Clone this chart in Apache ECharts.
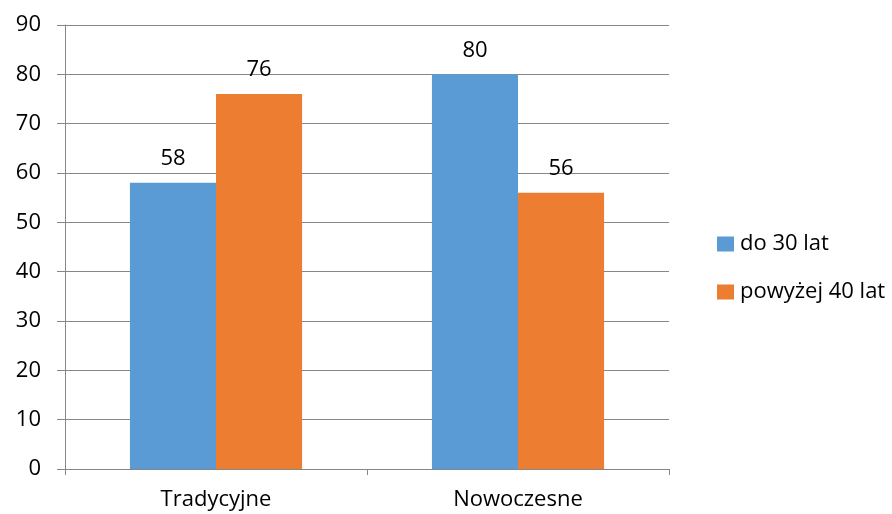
<!DOCTYPE html>
<html>
<head>
<meta charset="utf-8">
<script src="https://cdn.jsdelivr.net/npm/echarts@6/dist/echarts.min.js"></script>
<style>
  html, body { margin: 0; padding: 0; background: #fff; }
  #chart { width: 892px; height: 514px; }
</style>
</head>
<body>
<div id="chart"></div>
<script>
// Survey results by age group
const categories = ['Tradycyjne', 'Nowoczesne'];
const seriesNames = ['do 30 lat', 'powyżej 40 lat'];
const young = [58, 80];
const older = [76, 56];

const FONT = '"Open Sans", "Noto Sans", sans-serif';
const FONT_SIZE = 22;
const AXIS_GREY = '#868686';

const chart = echarts.init(document.getElementById('chart'), null, { renderer: 'canvas' });

const barLabel = {
  show: true,
  position: 'top',
  distance: 13,
  fontFamily: FONT,
  fontSize: FONT_SIZE,
  color: '#000'
};

chart.setOption({
  animation: false,
  textStyle: { fontFamily: FONT },
  grid: { left: 65, right: 223, top: 25, bottom: 45, containLabel: false },
  legend: {
    orient: 'vertical',
    left: 712,
    top: 228,
    itemWidth: 17,
    itemHeight: 15,
    itemGap: 26,
    icon: 'rect',
    textStyle: { fontFamily: FONT, fontSize: FONT_SIZE, color: '#000', padding: [0, 0, 0, 1] },
    data: seriesNames
  },
  xAxis: {
    type: 'category',
    data: categories,
    axisLine: { lineStyle: { color: AXIS_GREY, width: 1 } },
    axisTick: { show: true, length: 6, alignWithLabel: false, lineStyle: { color: AXIS_GREY } },
    axisLabel: { fontFamily: FONT, fontSize: FONT_SIZE, color: '#000', margin: 20 },
    splitLine: { show: false }
  },
  yAxis: {
    type: 'value',
    min: 0,
    max: 90,
    interval: 10,
    axisLine: { show: true, lineStyle: { color: AXIS_GREY, width: 1 } },
    axisTick: { show: true, length: 8, lineStyle: { color: AXIS_GREY } },
    axisLabel: { fontFamily: FONT, fontSize: FONT_SIZE, color: '#000', margin: 24 },
    splitLine: { show: true, lineStyle: { color: AXIS_GREY, width: 1 } }
  },
  series: [
    {
      name: seriesNames[0],
      type: 'bar',
      data: young,
      barGap: '0%',
      barCategoryGap: '43%',
      itemStyle: { color: '#5B9BD5' },
      label: barLabel
    },
    {
      name: seriesNames[1],
      type: 'bar',
      data: older,
      barGap: '0%',
      barCategoryGap: '43%',
      itemStyle: { color: '#ED7D31' },
      label: barLabel
    }
  ]
});
</script>
</body>
</html>
